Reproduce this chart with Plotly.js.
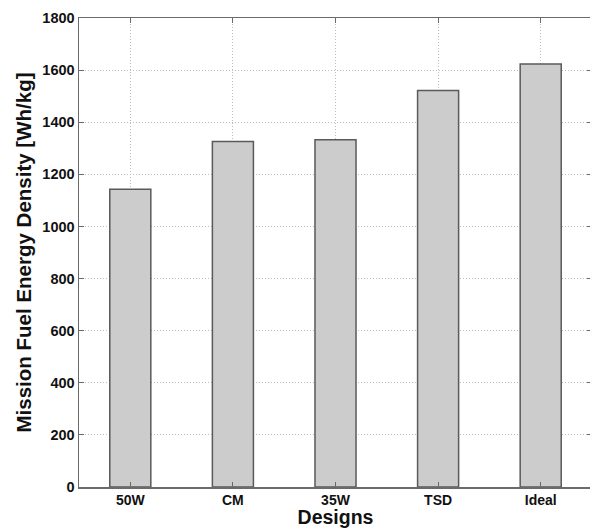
<!DOCTYPE html>
<html>
<head>
<meta charset="utf-8">
<script src="https://cdn.plot.ly/plotly-3.0.1.min.js"></script>
<style>
html,body{margin:0;padding:0;overflow:hidden;background:#fff;}
#chart{width:594px;height:528px;}
</style>
</head>
<body>
<div id="chart"></div>
<script>
const designs = ["50W", "CM", "35W", "TSD", "Ideal"];
const energyDensity = [1143, 1326, 1333, 1522, 1623];
const yTickVals = [0, 200, 400, 600, 800, 1000, 1200, 1400, 1600, 1800];

const fontFamily = '"Liberation Sans", Arial, Helvetica, sans-serif';

const trace = {
  type: 'bar',
  x: designs,
  y: energyDensity,
  width: 0.4,
  marker: {color: '#cccccc', line: {color: '#5a5a5a', width: 1.5}},
  hoverinfo: 'skip'
};

const layout = {
  width: 594,
  height: 528,
  margin: {l: 79, r: 2, t: 18, b: 41},
  paper_bgcolor: '#ffffff',
  plot_bgcolor: '#ffffff',
  showlegend: false,
  font: {family: fontFamily, color: '#111111'},
  xaxis: {
    type: 'category',
    range: [-0.5, 4.5],
    showline: true, linecolor: '#6a6a6a', linewidth: 1.5, mirror: 'allticks',
    ticks: 'inside', ticklen: 5, tickcolor: '#6a6a6a', tickwidth: 1,
    showgrid: true, gridcolor: '#bdbdbd', griddash: '1px,2px', gridwidth: 1,
    tickfont: {size: 14, family: fontFamily, weight: 'bold', color: '#111'},
    title: {text: '<b>Designs</b>', font: {size: 19.5, family: fontFamily, color: '#111'}, standoff: 3},
    automargin: false,
    zeroline: false
  },
  yaxis: {
    range: [0, 1800],
    tickvals: yTickVals,
    showline: true, linecolor: '#6a6a6a', linewidth: 1.5, mirror: 'allticks',
    ticks: 'inside', ticklen: 5, tickcolor: '#6a6a6a', tickwidth: 1,
    showgrid: true, gridcolor: '#bdbdbd', griddash: '1px,2px', gridwidth: 1,
    tickfont: {size: 14.5, family: fontFamily, weight: 'bold', color: '#111'},
    title: {text: '<b>Mission Fuel Energy Density [Wh/kg]</b>', font: {size: 20.5, family: fontFamily, color: '#111'}, standoff: 5},
    automargin: false,
    zeroline: false
  }
};

Plotly.newPlot('chart', [trace], layout, {staticPlot: true, displayModeBar: false});
</script>
</body>
</html>
